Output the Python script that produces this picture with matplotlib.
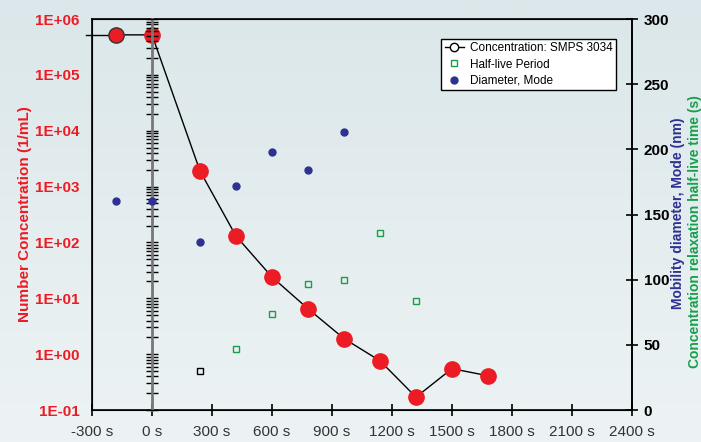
import numpy as np
import matplotlib
matplotlib.use('Agg')
from matplotlib import pyplot as plt
from matplotlib.lines import Line2D

plt.rcParams['font.family'] = ['Liberation Sans', 'DejaVu Sans']

# concentration (1/mL) vs time (s)
t_conc = [-180, 0, 240, 420, 600, 780, 960, 1140, 1320, 1500, 1680]
conc = [5.2e5, 5.2e5, 1.9e3, 130, 24, 6.5, 1.9, 0.76, 0.17, 0.55, 0.41]
t_lead = [-330, -180]          # line running in from the left edge
conc_lead = [5.2e5, 5.2e5]

# mobility diameter, mode (nm)
t_diam = [-180, 0, 240, 420, 600, 780, 960]
diam = [160, 160, 129, 172, 198, 184, 213]

# half-live period (s)
t_half = [420, 600, 780, 960, 1140, 1320]
half = [47, 74, 97, 100, 136, 84]
t_half0 = [240]
half0 = [30]

xticks = list(range(-300, 2401, 300))
xlabels = [f'{v} s' for v in xticks]
yticks = [1e-1, 1e0, 1e1, 1e2, 1e3, 1e4, 1e5, 1e6]
ylabels = ['1E-01', '1E+00', '1E+01', '1E+02', '1E+03', '1E+04', '1E+05', '1E+06']

red = '#ec1c24'
blue = '#2e3192'
green = '#16a04a'

fig = plt.figure(figsize=(7.01, 4.42), dpi=100)

# background gradient
bg = fig.add_axes([0, 0, 1, 1], zorder=-10)
grad = np.linspace(0, 1, 256).reshape(-1, 1)
c_top = np.array(matplotlib.colors.to_rgb('#dbe7ea'))
c_bot = np.array(matplotlib.colors.to_rgb('#edf3f4'))
img = c_top + (c_bot - c_top) * grad[:, :, None]
bg.imshow(img, aspect='auto', extent=[0, 1, 0, 1])
bg.axis('off')

rect = [92 / 701, 32 / 442, 540 / 701, 391 / 442]
ax = fig.add_axes(rect)
ax.set_facecolor('none')
ax.set_yscale('log')
ax.set_xlim(-300, 2400)
ax.set_ylim(1e-1, 1e6)
ax.set_xticks(xticks)
ax.set_xticklabels(xlabels, fontsize=11, color='#333333')
ax.set_yticks(yticks)
ax.set_yticklabels(ylabels, fontsize=11, color=red, fontweight='bold')
ax.yaxis.set_minor_locator(matplotlib.ticker.NullLocator())
ax.tick_params(axis='y', which='both', length=0, pad=9)
ax.tick_params(axis='x', direction='inout', length=9, width=1.2, pad=6)
for s in ax.spines.values():
    s.set_linewidth(1.2)
ax.set_ylabel('Number Concentration (1/mL)', color=red, fontsize=11,
              fontweight='bold', labelpad=2)

# vertical axis crossing at 0 s
ax0 = fig.add_axes(rect, sharey=ax)
ax0.set_xlim(-300, 2400)
ax0.set_facecolor('none')
for k in ['top', 'right', 'bottom']:
    ax0.spines[k].set_visible(False)
ax0.spines['left'].set_position(('data', 0))
ax0.spines['left'].set_color('#777777')
ax0.spines['left'].set_linewidth(2)
ax0.set_xticks([])
ax0.yaxis.set_minor_locator(matplotlib.ticker.LogLocator(base=10, subs=np.arange(2, 10)))
ax0.tick_params(axis='y', which='both', direction='inout', length=8, width=1,
                labelleft=False)

ax.plot(t_lead, conc_lead, color='black', lw=1, clip_on=False, zorder=3)
ax.plot(t_conc, conc, color='black', lw=1, zorder=3)
ax.plot(t_conc[:1], conc[:1], 'o', color=red, ms=11, mec='#333333', mew=1, zorder=4)
ax.plot(t_conc[1:], conc[1:], 'o', color=red, ms=11, mec=red, zorder=4)

ax2 = ax.twinx()
ax2.set_ylim(0, 300)
ax2.set_yticks(range(0, 301, 50))
ax2.tick_params(axis='y', direction='inout', length=9, width=1.2, pad=4,
                labelsize=11)
for lab in ax2.get_yticklabels():
    lab.set_fontweight('bold')
ax2.spines['right'].set_linewidth(1.2)
ax2.plot(t_diam, diam, 'o', color=blue, ms=5, zorder=4)
ax2.plot(t_half, half, 's', mfc='none', mec=green, mew=1, ms=4.5, zorder=4)
ax2.plot(t_half0, half0, 's', mfc='none', mec='black', mew=1, ms=4.5, zorder=4)

handles = [
    Line2D([], [], color='black', lw=1, marker='o', mfc='white', mec='black', ms=6),
    Line2D([], [], ls='none', marker='s', mfc='none', mec=green, ms=4.5),
    Line2D([], [], ls='none', marker='o', color=blue, ms=5),
]
leg = ax2.legend(handles, ['Concentration: SMPS 3034', 'Half-live Period', 'Diameter, Mode'],
                 loc='upper right', bbox_to_anchor=(0.970, 0.949), borderaxespad=0,
                 fontsize=8.5, fancybox=False, framealpha=1, edgecolor='black',
                 handlelength=1.6, handletextpad=0.5, borderpad=0.3, labelspacing=0.35)
leg.get_frame().set_linewidth(1)

fig.text(678 / 701, (442 - 213) / 442, 'Mobility diameter, Mode (nm)', rotation=90,
         color=blue, fontsize=10, fontweight='bold', ha='center', va='center')
fig.text(694.5 / 701, (442 - 368) / 442, 'Concentration relaxation half-live time (s)',
         rotation=90, color=green, fontsize=10, fontweight='bold', ha='center', va='bottom')

fig.savefig('out.png', dpi=100)
